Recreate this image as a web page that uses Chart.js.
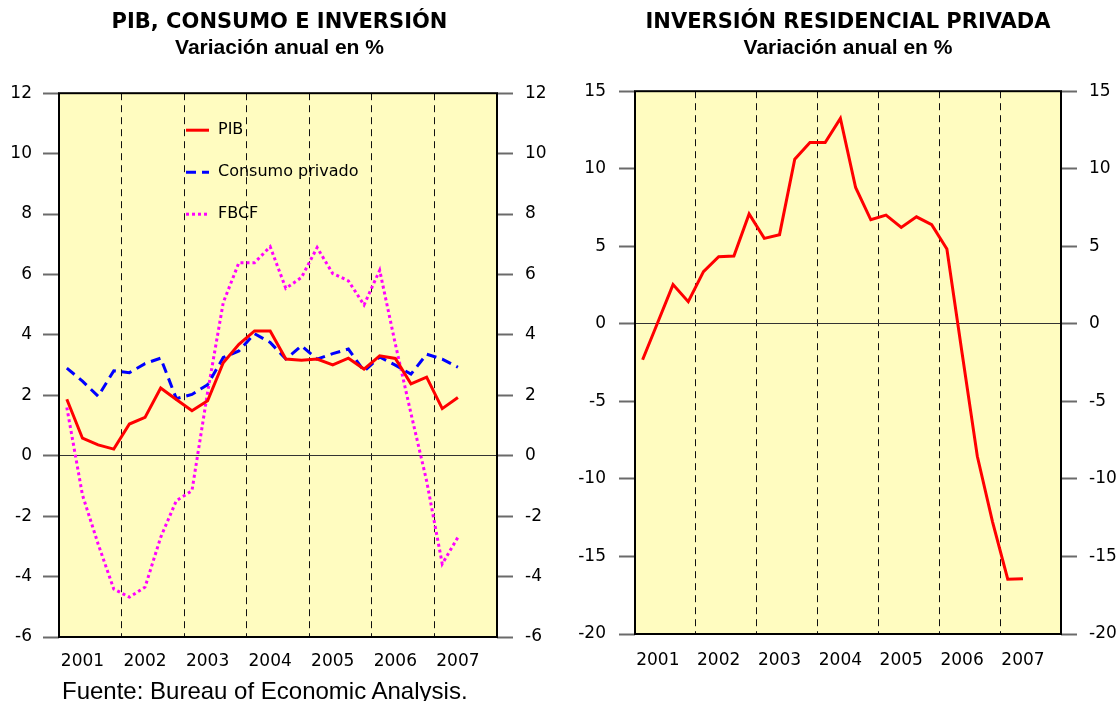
<!DOCTYPE html>
<html lang="es">
<head>
<meta charset="utf-8">
<title>PIB, consumo e inversión</title>
<script src="https://cdn.jsdelivr.net/npm/chart.js@4.4.1/dist/chart.umd.min.js"></script>
<style>
    html, body { margin: 0; padding: 0; background: #fff; overflow: hidden; }
    body { width: 1118px; height: 701px; position: relative; }
    .panel { position: absolute; top: 0; height: 701px; }
    #left { left: 0; width: 559px; }
    #right { left: 578px; width: 540px; }
    #fuente {
        position: absolute; left: 62px; top: 679px;
        font: 24px/24px "Liberation Sans", Arial, sans-serif; color: #000; white-space: nowrap;
    }
</style>
</head>
<body>
<div class="panel" id="left"><canvas id="chart-pib"></canvas></div>
<div class="panel" id="right"><canvas id="chart-residencial"></canvas></div>
<div id="fuente">Fuente: Bureau of Economic Analysis.</div>

<script>
// eje X: años y trimestres (2001-I ... 2007-IV)
const years = ['2001', '2002', '2003', '2004', '2005', '2006', '2007'];
const quarterNames = ['I', 'II', 'III', 'IV'];
const quarters = years.flatMap(y => quarterNames.map(q => y + '-' + q));

// marcas del eje Y
const ticksPib = [-6, -4, -2, 0, 2, 4, 6, 8, 10, 12];
const ticksResidencial = [-20, -15, -10, -5, 0, 5, 10, 15];

// variación anual en %, 2001-I a 2007-II
const pib = [1.87, 0.58, 0.36, 0.22, 1.05, 1.27, 2.24, 1.86, 1.49, 1.82,
    3.08, 3.69, 4.13, 4.13, 3.20, 3.16, 3.20, 3.01, 3.23, 2.87,
    3.31, 3.22, 2.38, 2.60, 1.56, 1.93];
const consumoPrivado = [2.90, 2.47, 1.97, 2.81, 2.75, 3.05, 3.23, 1.89, 2.03, 2.35,
    3.25, 3.47, 4.04, 3.75, 3.20, 3.64, 3.20, 3.38, 3.53, 2.80,
    3.27, 3.00, 2.70, 3.36, 3.20, 2.93];
const fbcf = [1.60, -1.30, -2.92, -4.41, -4.68, -4.35, -2.70, -1.49, -1.16, 2.10,
    5.07, 6.39, 6.39, 6.92, 5.54, 5.90, 6.89, 6.03, 5.79, 4.99,
    6.14, 3.70, 1.40, -0.83, -3.58, -2.70];
const invResidencial = [-2.32, 0.10, 2.53, 1.43, 3.37, 4.33, 4.37, 7.08, 5.51, 5.75,
    10.62, 11.69, 11.69, 13.25, 8.79, 6.71, 7.01, 6.22, 6.90, 6.39,
    4.83, -1.90, -8.54, -12.77, -16.47, -16.43];

Chart.defaults.font.family = '"DejaVu Sans", sans-serif';
Chart.defaults.font.size = 17;
Chart.defaults.color = '#000';

// fondo y marco del área de gráfico
const plotFrame = {
    id: 'plotFrame',
    beforeDraw(chart) {
        const { ctx, chartArea: a } = chart;
        ctx.save();
        ctx.fillStyle = '#fffcc0';
        ctx.fillRect(a.left, a.top, a.right - a.left, a.bottom - a.top);
        ctx.restore();
    },
    afterDraw(chart) {
        const { ctx, chartArea: a } = chart;
        ctx.save();
        ctx.strokeStyle = '#000';
        ctx.lineWidth = 2;
        ctx.strokeRect(a.left, a.top, a.right - a.left, a.bottom - a.top);
        ctx.restore();
    }
};

// leyenda dentro del gráfico (arriba, al centro)
const innerLegend = {
    id: 'innerLegend',
    afterDraw(chart) {
        const { ctx, chartArea: a } = chart;
        ctx.save();
        ctx.font = '16px "DejaVu Sans", sans-serif';
        ctx.textBaseline = 'middle';
        chart.data.datasets.forEach((ds, i) => {
            const y = a.top + 37 + i * 42;
            ctx.strokeStyle = ds.borderColor;
            ctx.lineWidth = ds.borderWidth;
            ctx.setLineDash(ds.borderDash || []);
            ctx.beginPath();
            ctx.moveTo(a.left + 127, y);
            ctx.lineTo(a.left + 150, y);
            ctx.stroke();
            ctx.fillStyle = '#000';
            ctx.fillText(ds.label, a.left + 159, y);
        });
        ctx.restore();
    }
};

// líneas verticales discontinuas entre años
function yearLine(c) {
    return (c.index !== undefined && c.index > 0 && c.index % 4 === 0) ? '#111' : 'rgba(0,0,0,0)';
}

function zeroLine(c) {
    return (c.tick && c.tick.value === 0) ? '#333' : 'rgba(0,0,0,0)';
}

function buildOptions(cfg) {
    const yTicks = cfg.yTicks;
    const setTicks = s => { s.ticks = yTicks.map(v => ({ value: v })); };
    return {
        responsive: true,
        maintainAspectRatio: false,
        animation: false,
        layout: { padding: 0 },
        elements: {
            point: { radius: 0, hoverRadius: 0, hitRadius: 0 },
            line: { tension: 0, fill: false }
        },
        plugins: {
            legend: { display: false },
            tooltip: { enabled: false },
            title: {
                display: true,
                text: cfg.title,
                color: '#000',
                font: { family: '"DejaVu Sans", sans-serif', weight: 'bold', size: 21, lineHeight: 1.2 },
                padding: { top: 10, bottom: 0 }
            },
            subtitle: {
                display: true,
                text: 'Variación anual en %',
                color: '#000',
                font: { family: '"Liberation Sans", Arial, sans-serif', weight: 'bold', size: 21, lineHeight: 1.2 },
                padding: { top: 0, bottom: cfg.subPad }
            }
        },
        scales: {
            x: {
                type: 'category',
                offset: true,
                grid: { offset: true, drawTicks: false, color: yearLine, lineWidth: 1 },
                border: { display: false, dash: [7, 5] },
                ticks: {
                    autoSkip: false,
                    maxRotation: 0,
                    minRotation: 0,
                    padding: cfg.xPad,
                    color: '#000',
                    callback: (v, i) => (i % 4 === 1 ? years[Math.floor(i / 4)] : '')
                },
                afterFit: s => { s.height = cfg.bottom; }
            },
            y: {
                position: 'left',
                min: yTicks[0],
                max: yTicks[yTicks.length - 1],
                afterBuildTicks: setTicks,
                ticks: { padding: cfg.padL, color: '#000' },
                grid: { color: zeroLine, lineWidth: 1, tickLength: 16, tickColor: '#6a6a6a', tickWidth: 2 },
                border: { display: false },
                afterFit: s => { s.width = cfg.left; }
            },
            y2: {
                position: 'right',
                min: yTicks[0],
                max: yTicks[yTicks.length - 1],
                afterBuildTicks: setTicks,
                ticks: { padding: cfg.padR, color: '#000' },
                grid: { drawOnChartArea: false, tickLength: 16, color: '#6a6a6a', tickColor: '#6a6a6a', tickWidth: 2 },
                border: { display: false },
                afterFit: s => { s.width = cfg.right; }
            }
        }
    };
}

new Chart(document.getElementById('chart-pib'), {
    type: 'line',
    data: {
        labels: quarters,
        datasets: [
            { label: 'PIB', data: pib, borderColor: '#ff0000', borderWidth: 3, yAxisID: 'y' },
            { label: 'Consumo privado', data: consumoPrivado, borderColor: '#0000ff', borderWidth: 3, borderDash: [10, 6], yAxisID: 'y' },
            { label: 'FBCF', data: fbcf, borderColor: '#ff00ff', borderWidth: 3, borderDash: [3, 3], yAxisID: 'y' }
        ]
    },
    options: buildOptions({
        title: 'PIB, CONSUMO E INVERSIÓN',
        subPad: 32.8,
        yTicks: ticksPib,
        left: 59, right: 62, bottom: 64,
        padL: 11, padR: 12, xPad: 14
    }),
    plugins: [plotFrame, innerLegend]
});

new Chart(document.getElementById('chart-residencial'), {
    type: 'line',
    data: {
        labels: quarters,
        datasets: [
            { label: 'Inversión residencial privada', data: invResidencial, borderColor: '#ff0000', borderWidth: 3, yAxisID: 'y' }
        ]
    },
    options: buildOptions({
        title: 'INVERSIÓN RESIDENCIAL PRIVADA',
        subPad: 30.8,
        yTicks: ticksResidencial,
        left: 57, right: 57, bottom: 67,
        padL: 13, padR: 12, xPad: 16
    }),
    plugins: [plotFrame]
});
</script>
</body>
</html>
